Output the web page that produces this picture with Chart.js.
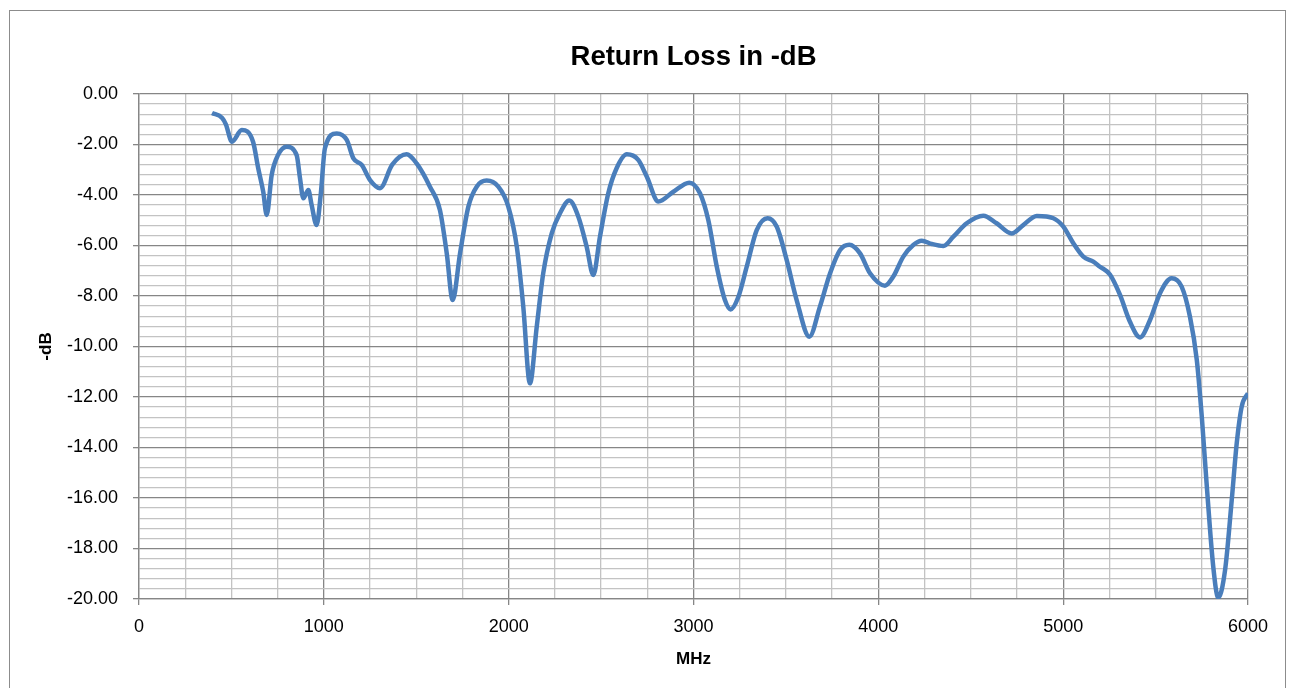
<!DOCTYPE html>
<html>
<head>
<meta charset="utf-8">
<script src="https://cdn.jsdelivr.net/npm/chart.js@4"></script>
<style>
  body { margin: 0; background: #fff; overflow: hidden; }
  #box { position: absolute; left: 9px; top: 10px; width: 1275px; height: 690px; border: 1px solid #8c8c8c; }
</style>
</head>
<body>
<div id="box"><canvas id="myChart" width="1275" height="678"></canvas></div>
<script>
// values
let freqMHz = [395, 450, 470, 503, 556, 617, 645, 672, 691, 718, 752, 799, 853, 871, 889, 916, 934, 961, 983, 1006,
  1070, 1124, 1160, 1205, 1250, 1304, 1370, 1448, 1502, 1574, 1628, 1665, 1697, 1737, 1782, 1827, 1881, 1944, 1998,
  2044, 2079, 2115, 2152, 2187, 2233, 2278, 2328, 2377, 2422, 2458, 2494, 2539, 2584, 2639, 2701, 2747, 2810, 2891,
  2977, 3035, 3080, 3126, 3170, 3201, 3243, 3288, 3342, 3401, 3450, 3504, 3558, 3627, 3684, 3739, 3793, 3843, 3901,
  3955, 4036, 4081, 4135, 4189, 4235, 4289, 4352, 4406, 4478, 4568, 4640, 4721, 4784, 4857, 4947, 5001, 5055, 5109,
  5163, 5199, 5253, 5307, 5360, 5416, 5470, 5524, 5587, 5641, 5686, 5723, 5750, 5776, 5812, 5839, 5876, 5912, 5939,
  5966, 6000];
let returnLoss = [-0.75, -0.95, -1.2, -1.89, -1.43, -1.89, -2.94, -3.87, -4.79, -3.2, -2.42, -2.09, -2.42, -3.33, -4.13, -3.8, -4.4, -5.19, -4.0, -2.15,
  -1.56, -1.82, -2.55, -2.81, -3.41, -3.73, -2.8, -2.39, -2.75, -3.67, -4.59, -6.31, -8.16, -6.31, -4.46, -3.67, -3.43, -3.67, -4.46,
  -6.05, -8.42, -11.46, -9.21, -7.1, -5.52, -4.72, -4.22, -4.86, -6.05, -7.17, -5.65, -3.93, -2.94, -2.39, -2.61, -3.27, -4.26, -3.87,
  -3.51, -3.93, -4.99, -6.84, -8.16, -8.53, -8.03, -6.84, -5.39, -4.92, -5.25, -6.57, -8.16, -9.61, -8.42, -7.1, -6.18, -5.97, -6.31,
  -7.1, -7.59, -7.23, -6.44, -5.98, -5.81, -5.94, -6.02, -5.65, -5.12, -4.82, -5.12, -5.52, -5.19, -4.83, -4.92, -5.25, -5.91, -6.44,
  -6.64, -6.84, -7.15, -7.95, -9.0, -9.64, -8.95, -7.89, -7.3, -7.63, -8.82, -10.53, -12.78, -15.42, -18.72, -19.95, -18.85, -16.08, -13.83,
  -12.38, -11.85];

let chartTitle = 'Return Loss in -dB';
let xTitle = 'MHz';
let yTitle = '-dB';

const majorGrid = '#868686';
const minorGrid = '#c3c3c3';

function isMajorX(v){ return Math.abs(v % 1000) < 1e-6; }
function isMajorY(v){ return Math.abs(v / 2 - Math.round(v / 2)) < 1e-6; }

// centre the title over the plot area, like Excel does
const titleOverPlot = {
  id: 'titleOverPlot',
  afterLayout(chart){
    if (chart.titleBlock) {
      chart.titleBlock.left = chart.chartArea.left;
      chart.titleBlock.right = chart.chartArea.right;
    }
  }
};

function createChart(){
  const ctx = document.getElementById('myChart');
  new Chart(ctx, {
    type: 'line',
    data: {
      datasets: [{
        label: chartTitle,
        data: freqMHz.map((f, i) => ({x: f, y: returnLoss[i]})),
        borderColor: '#4a7ebb',
        borderWidth: 4.5,
        pointRadius: 0,
        cubicInterpolationMode: 'monotone',
        fill: false
      }]
    },
    plugins: [titleOverPlot],
    options: {
      responsive: false,
      animation: false,
      layout: { padding: { left: 0, right: 37, top: 0, bottom: 0 } },
      plugins: {
        legend: { display: false },
        tooltip: { enabled: false },
        title: {
          display: true,
          text: chartTitle,
          color: '#000',
          font: { family: 'Liberation Sans', size: 27.5, weight: 'bold' },
          padding: { top: 30, bottom: 20 }
        }
      },
      scales: {
        x: {
          type: 'linear',
          min: 0,
          max: 6000,
          afterFit: (s) => { s.height = 90; },
          ticks: {
            stepSize: 250,
            autoSkip: false,
            maxRotation: 0,
            padding: 11,
            color: '#000',
            font: { family: 'Liberation Sans', size: 18 },
            callback: (v) => isMajorX(v) ? String(v) : ''
          },
          grid: {
            color: (c) => isMajorX(c.tick.value) ? majorGrid : minorGrid,
            tickColor: (c) => isMajorX(c.tick.value) ? majorGrid : 'rgba(0,0,0,0)',
            tickLength: 6,
            lineWidth: 1.3
          },
          border: { color: majorGrid, width: 1.3 },
          title: {
            display: true,
            text: xTitle,
            color: '#000',
            font: { family: 'Liberation Sans', size: 17, weight: 'bold' },
            padding: { top: 0, bottom: 19.5 }
          }
        },
        y: {
          min: -20,
          max: 0,
          afterFit: (s) => { s.width = 129; },
          ticks: {
            stepSize: 0.4,
            autoSkip: false,
            padding: 15,
            color: '#000',
            font: { family: 'Liberation Sans', size: 18 },
            callback: (v) => isMajorY(v) ? v.toFixed(2) : ''
          },
          grid: {
            color: (c) => isMajorY(c.tick.value) ? majorGrid : minorGrid,
            tickColor: (c) => isMajorY(c.tick.value) ? majorGrid : 'rgba(0,0,0,0)',
            tickLength: 6,
            lineWidth: 1.3
          },
          border: { color: majorGrid, width: 1.3 },
          title: {
            display: true,
            text: yTitle,
            color: '#000',
            font: { family: 'Liberation Sans', size: 17, weight: 'bold' },
            padding: { top: 25.8, bottom: 0 }
          }
        }
      }
    }
  });
}

createChart();
</script>
</body>
</html>
